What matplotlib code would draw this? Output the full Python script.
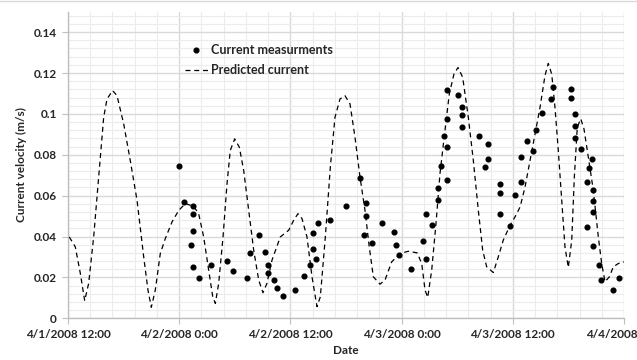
import matplotlib
matplotlib.use("Agg")
import matplotlib.pyplot as plt
import matplotlib.dates as mdates
import matplotlib.transforms as mtransforms
from matplotlib.ticker import MultipleLocator, FixedLocator, FixedFormatter
from datetime import datetime
import numpy as np

plt.rcParams['font.family'] = ['Lato', 'DejaVu Sans']

# hours after 4/1/2008 12:00
meas_hours = [12.01, 12.57, 13.52, 13.52, 13.52, 13.24, 13.52, 14.17, 15.46, 17.13,
              17.77, 19.32, 19.67, 20.61, 21.26, 21.62, 21.62, 22.26, 22.52, 23.20,
              24.46, 25.47, 26.15, 26.41, 26.41, 26.76, 27.03, 28.31, 29.98, 31.54,
              32.19, 32.19, 31.92, 32.84, 33.85, 35.15, 35.42, 35.75, 37.05, 38.33,
              38.63, 38.61, 39.26, 39.91, 39.91, 40.90, 40.25, 40.90, 40.55, 40.90,
              40.90, 42.12, 42.48, 42.48, 42.48, 44.38, 45.32, 45.32, 45.05, 46.62,
              46.62, 46.62, 47.68, 48.27, 48.91, 48.91, 49.55, 50.20, 50.47, 51.12,
              52.10, 52.39, 54.33, 54.33, 54.69, 54.69, 54.69, 55.34, 56.60, 56.25,
              55.97, 56.62, 56.62, 56.62, 55.97, 56.62, 57.27, 57.57, 58.83, 59.46]
meas_speed = [0.0743, 0.0567, 0.0548, 0.0510, 0.0426, 0.0361, 0.0252, 0.0197, 0.0260, 0.0281,
              0.0232, 0.0197, 0.0320, 0.0406, 0.0325, 0.0260, 0.0220, 0.0187, 0.0149, 0.0109,
              0.0138, 0.0206, 0.0261, 0.0338, 0.0416, 0.0288, 0.0465, 0.0483, 0.0549, 0.0685,
              0.0566, 0.0500, 0.0406, 0.0367, 0.0465, 0.0420, 0.0361, 0.0310, 0.0243, 0.0380,
              0.0291, 0.0510, 0.0455, 0.0577, 0.0637, 0.0675, 0.0743, 0.0836, 0.0892, 0.0975,
              0.1119, 0.1091, 0.1032, 0.0994, 0.0936, 0.0893, 0.0852, 0.0777, 0.0742, 0.0655,
              0.0613, 0.0510, 0.0454, 0.0604, 0.0668, 0.0787, 0.0865, 0.0817, 0.0922, 0.1004,
              0.1074, 0.1133, 0.1122, 0.1080, 0.1000, 0.0941, 0.0880, 0.0826, 0.0777, 0.0735,
              0.0668, 0.0626, 0.0574, 0.0519, 0.0445, 0.0356, 0.0259, 0.0187, 0.0140, 0.0197]

pred_hours = [0.14, 0.79, 1.33, 1.80, 2.23, 2.77, 3.31, 3.85, 4.21, 4.82,
              5.29, 6.01, 6.72, 7.45, 8.17, 8.63, 8.99, 9.42, 9.96, 10.50,
              11.22, 11.95, 12.66, 13.56, 14.10, 14.64, 15.18, 15.62, 15.90, 16.26,
              16.73, 17.16, 17.51, 17.99, 18.49, 18.96, 19.50, 20.04, 20.58, 21.04,
              21.47, 22.01, 22.91, 23.82, 24.36, 24.82, 25.25, 25.79, 26.33, 26.87,
              27.23, 27.77, 28.31, 28.81, 29.35, 29.89, 30.43, 30.97, 31.51, 32.05,
              32.51, 32.95, 33.67, 34.21, 34.93, 35.83, 36.72, 37.69, 38.17, 38.53,
              38.82, 39.25, 39.71, 40.14, 40.68, 41.15, 41.65, 42.09, 42.59, 43.20,
              43.74, 44.28, 44.75, 45.18, 45.90, 46.43, 46.97, 47.70, 48.24, 48.78,
              49.32, 49.86, 50.40, 50.94, 51.47, 51.83, 52.20, 52.55, 52.91, 53.28,
              53.63, 53.99, 54.36, 54.64, 54.96, 55.33, 55.68, 56.15, 56.69, 57.23,
              57.59, 57.95, 58.42, 58.85, 59.39, 60.00]
pred_speed = [0.0398, 0.0349, 0.0220, 0.0086, 0.0171, 0.0398, 0.0691, 0.0983, 0.1073, 0.1114,
              0.1089, 0.0951, 0.0772, 0.0577, 0.0300, 0.0138, 0.0054, 0.0138, 0.0317, 0.0390,
              0.0471, 0.0528, 0.0561, 0.0548, 0.0512, 0.0398, 0.0236, 0.0105, 0.0073, 0.0171,
              0.0398, 0.0659, 0.0821, 0.0878, 0.0837, 0.0723, 0.0528, 0.0333, 0.0187, 0.0125,
              0.0171, 0.0284, 0.0398, 0.0431, 0.0480, 0.0512, 0.0488, 0.0398, 0.0203, 0.0057,
              0.0105, 0.0398, 0.0740, 0.0983, 0.1073, 0.1089, 0.1049, 0.0886, 0.0691, 0.0528,
              0.0349, 0.0203, 0.0167, 0.0187, 0.0276, 0.0317, 0.0328, 0.0320, 0.0268, 0.0138,
              0.0102, 0.0236, 0.0463, 0.0707, 0.0919, 0.1098, 0.1195, 0.1227, 0.1179, 0.0983,
              0.0772, 0.0528, 0.0333, 0.0252, 0.0224, 0.0300, 0.0382, 0.0455, 0.0496, 0.0544,
              0.0642, 0.0772, 0.0902, 0.1032, 0.1187, 0.1247, 0.1195, 0.1032, 0.0821, 0.0577,
              0.0349, 0.0249, 0.0382, 0.0691, 0.0935, 0.0976, 0.0927, 0.0788, 0.0626, 0.0398,
              0.0268, 0.0179, 0.0203, 0.0252, 0.0268, 0.0276]

x_tick_labels = ['4/1/2008 12:00', '4/2/2008 0:00', '4/2/2008 12:00',
                 '4/3/2008 0:00', '4/3/2008 12:00', '4/4/2008']
y_tick_labels = ['0', '0.02', '0.04', '0.06', '0.08', '0.1', '0.12', '0.14']

start = mdates.date2num(datetime(2008, 4, 1, 12, 0))
meas_x = start + np.array(meas_hours) / 24.0
pred_x = start + np.array(pred_hours) / 24.0

text_col = '#262626'
major_col = '#d9d9d9'
minor_col = '#ececec'

fig = plt.figure(figsize=(6.37, 3.6), dpi=100)
ax = fig.add_axes([68 / 637, 41.7 / 360, 556 / 637, 306.6 / 360])

ax.plot(pred_x, pred_speed, color='black', lw=0.9, dashes=(4, 3),
        label='Predicted current', zorder=3)
ax.plot(meas_x, meas_speed, 'o', color='black', markersize=3.4,
        label='Current measurments', zorder=4)

ax.set_xlim(start, start + 2.5)
ax.set_ylim(0, 0.15)

ax.xaxis.set_major_locator(FixedLocator(start + np.arange(6) * 0.5))
ax.xaxis.set_major_formatter(FixedFormatter(x_tick_labels))
ax.xaxis.set_minor_locator(MultipleLocator(0.1))
ax.yaxis.set_major_locator(FixedLocator(np.arange(8) * 0.02))
ax.yaxis.set_major_formatter(FixedFormatter(y_tick_labels))
ax.yaxis.set_minor_locator(MultipleLocator(0.004))

ax.grid(which='major', color=major_col, lw=1.0, zorder=0)
ax.grid(which='minor', color=minor_col, lw=0.8, zorder=0)
ax.set_axisbelow(True)

for side in ['top', 'right']:
    ax.spines[side].set_visible(False)
for side in ['left', 'bottom']:
    ax.spines[side].set_color('#bfbfbf')
    ax.spines[side].set_linewidth(1.0)

ax.tick_params(which='major', length=4, width=0.8, color='#bfbfbf',
               labelsize=8.5, labelcolor=text_col)
ax.tick_params(which='minor', length=0)
ax.tick_params(axis='y', pad=4)
ax.tick_params(axis='x', pad=4)
for lab in ax.get_xticklabels() + ax.get_yticklabels():
    lab.set_fontweight('bold')

# keep the last date label inside the figure
fig.canvas.draw()
last = ax.get_xticklabels()[-1]
last.set_transform(last.get_transform() +
                   mtransforms.ScaledTranslation(-12 / 100, 0, fig.dpi_scale_trans))

ax.set_xlabel('Date', fontsize=8.5, fontweight='bold', color=text_col, labelpad=3)
ax.set_ylabel('Current velocity (m/s)', fontsize=8.5, fontweight='bold',
              color=text_col, labelpad=5)

handles, labels = ax.get_legend_handles_labels()
leg = ax.legend(handles[::-1], labels[::-1], loc='upper left',
                bbox_to_anchor=(0.21, 0.895), frameon=False, fontsize=9,
                handlelength=1.85, handletextpad=0.25, labelspacing=0.65,
                borderaxespad=0, borderpad=0)
for t in leg.get_texts():
    t.set_fontweight('bold')
    t.set_color(text_col)

# thin chart border along the top
fig.add_artist(plt.Line2D([0, 1], [0.997, 0.997], color='#d9d9d9', lw=1.0))

fig.savefig('out.png', dpi=100)
